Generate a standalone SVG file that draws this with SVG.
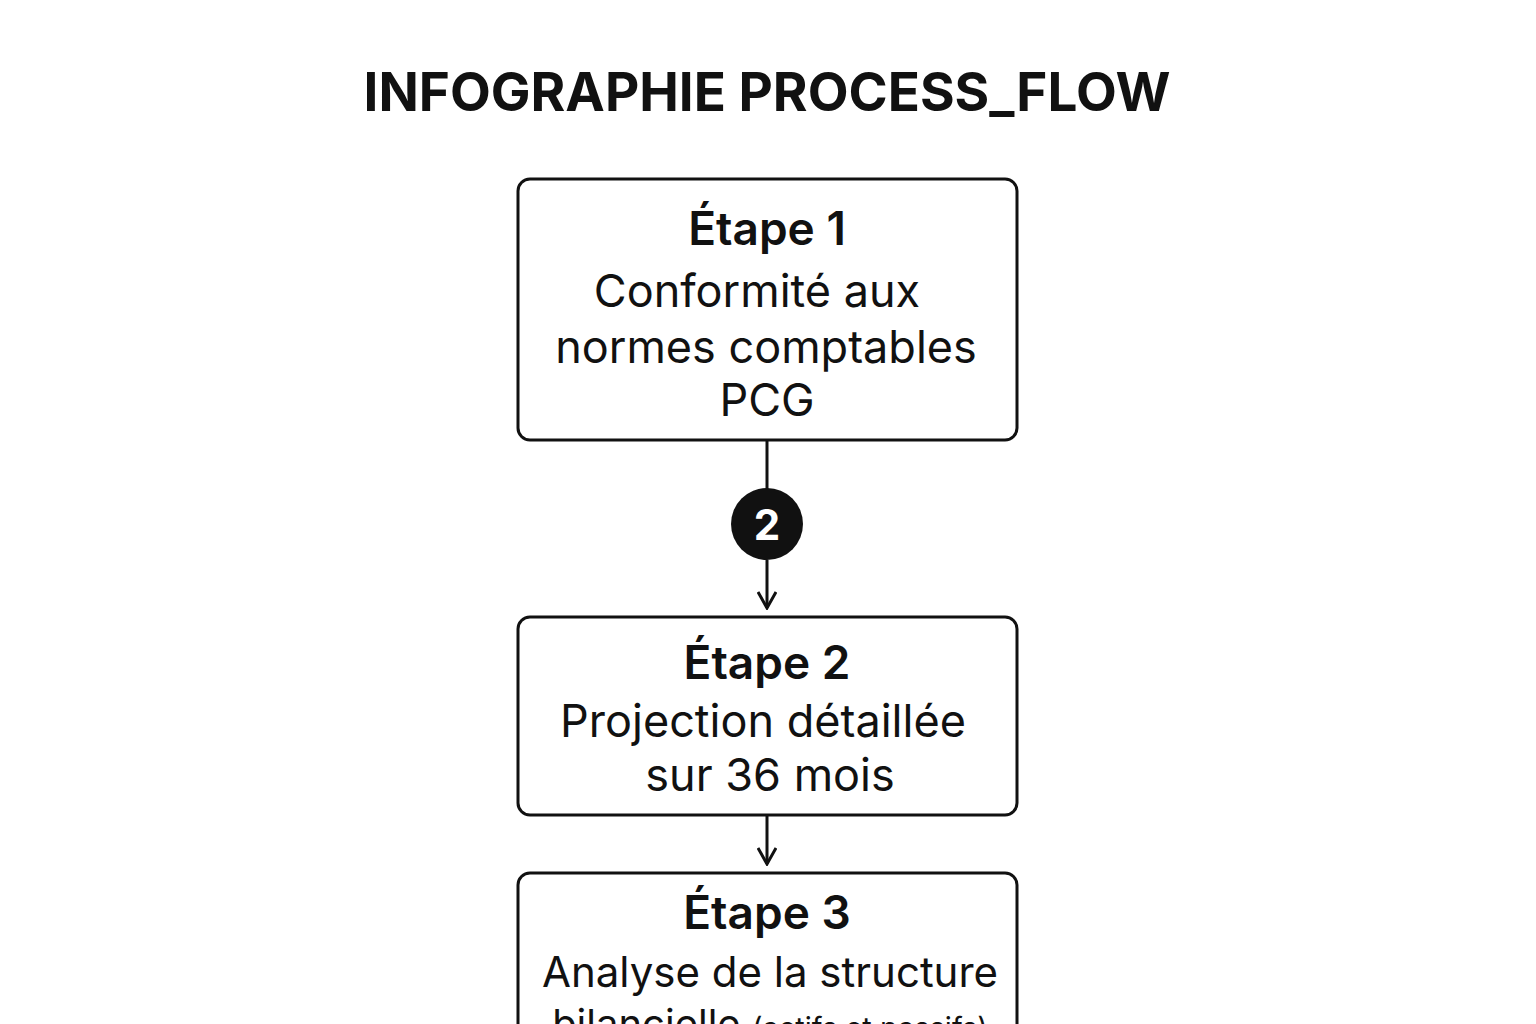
<svg xmlns="http://www.w3.org/2000/svg" width="1536" height="1024" viewBox="0 0 1536 1024">
<defs>
<style>
.t{font-family:Inter,"Liberation Sans",sans-serif;fill:#111;text-anchor:middle}
.h{font-size:46px;font-weight:600}
.b{font-size:45px}
.box{fill:#fff;stroke:#111;stroke-width:3}
.ln{stroke:#111;stroke-width:3;fill:none}
</style>
<marker id="a" viewBox="0 0 20 20" refX="18" refY="10" markerWidth="20" markerHeight="20" markerUnits="userSpaceOnUse" orient="auto">
<path d="M2,1 L18,10 L2,19" fill="none" stroke="#111" stroke-width="3"/>
</marker>
</defs>
<rect width="1536" height="1024" fill="#fff"/>
<text class="t" x="767" y="111" font-size="53" font-weight="700">INFOGRAPHIE PROCESS_FLOW</text>
<g id="connectors">
<line class="ln" x1="767" y1="440" x2="767" y2="490"/>
<line class="ln" x1="767" y1="560" x2="767" y2="608" marker-end="url(#a)"/>
<line class="ln" x1="767" y1="815" x2="767" y2="864" marker-end="url(#a)"/>
</g>
<g id="badge2">
<circle cx="767" cy="524" r="36" fill="#111"/>
<text class="t" x="767" y="540" font-size="42" font-weight="700" style="fill:#fff">2</text>
</g>
<g id="step1">
<rect class="box" x="518" y="179" width="499" height="261" rx="12"/>
<text class="t h" x="767" y="245">Étape 1</text>
<text class="t b" x="757" y="307">Conformité aux</text>
<text class="t b" x="766" y="363">normes comptables</text>
<text class="t b" x="767" y="416">PCG</text>
</g>
<g id="step2">
<rect class="box" x="518" y="617" width="499" height="198" rx="12"/>
<text class="t h" x="767" y="679">Étape 2</text>
<text class="t b" x="763" y="737">Projection détaillée</text>
<text class="t b" x="770" y="791">sur 36 mois</text>
</g>
<g id="step3">
<rect class="box" x="518" y="873" width="499" height="180" rx="12"/>
<text class="t h" x="767" y="929">Étape 3</text>
<text class="t" x="770" y="987" font-size="42">Analyse de la structure</text>
<text class="t" x="770" y="1038"><tspan font-size="40">bilancielle </tspan><tspan font-size="29">(actifs et passifs)</tspan></text>
</g>
</svg>
